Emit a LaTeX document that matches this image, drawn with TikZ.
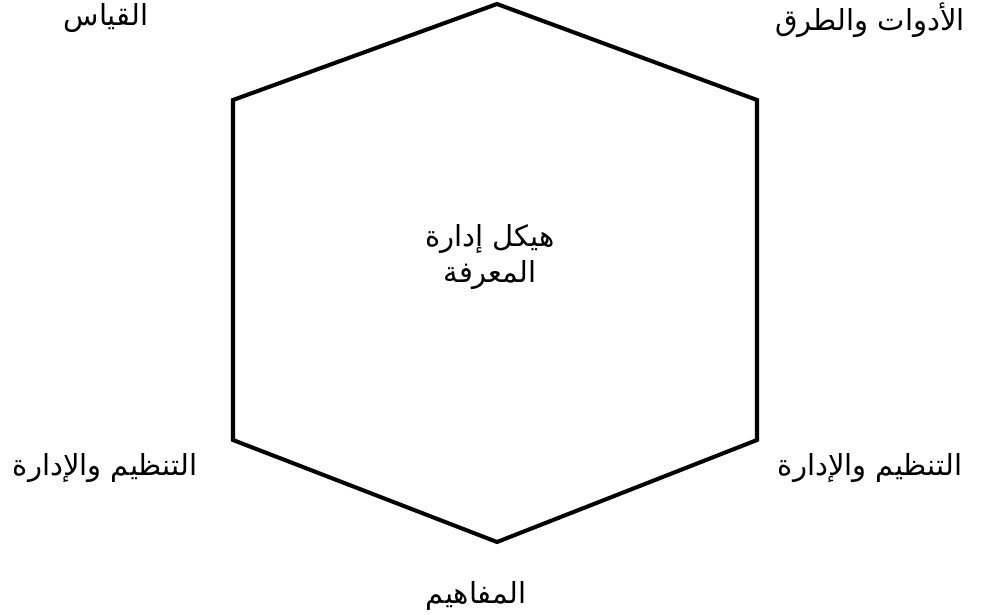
\documentclass[tikz,border=0pt]{standalone}
\usepackage{fontspec}
\newfontfamily\arabicfont[Script=Arabic]{DejaVu Sans}
\TeXXeTstate=1
\usetikzlibrary{positioning}
\newcommand{\artext}[1]{\beginR #1\endR}

\begin{document}
\begin{tikzpicture}[x=0.02cm, y=-0.02cm, every node/.style={font=\arabicfont\fontsize{16.5}{20}\selectfont}]
    \useasboundingbox (0,0) rectangle (997,615);

    % hexagon
    \coordinate (top) at (497,4);
    \coordinate (ur) at (757,100);
    \coordinate (lr) at (757,440);
    \coordinate (bot) at (497,542);
    \coordinate (ll) at (233,440);
    \coordinate (ul) at (233,100);
    \draw[line width=2.3pt] (top) -- (ur) -- (lr) -- (bot) -- (ll) -- (ul) -- cycle;

    \node[align=center] (centre) at (490,257) {\artext{هيكل إدارة}\\\artext{المعرفة}};

    % labels round the hexagon
    \node (measure) at (106,18) {\artext{القياس}};
    \node (tools) at (870,20) {\artext{الأدوات والطرق}};
    \node (orgleft) at (105,468) {\artext{التنظيم والإدارة}};
    \node (orgright) at (870,468) {\artext{التنظيم والإدارة}};
    \node (concepts) at (476,596) {\artext{المفاهيم}};
\end{tikzpicture}
\end{document}
